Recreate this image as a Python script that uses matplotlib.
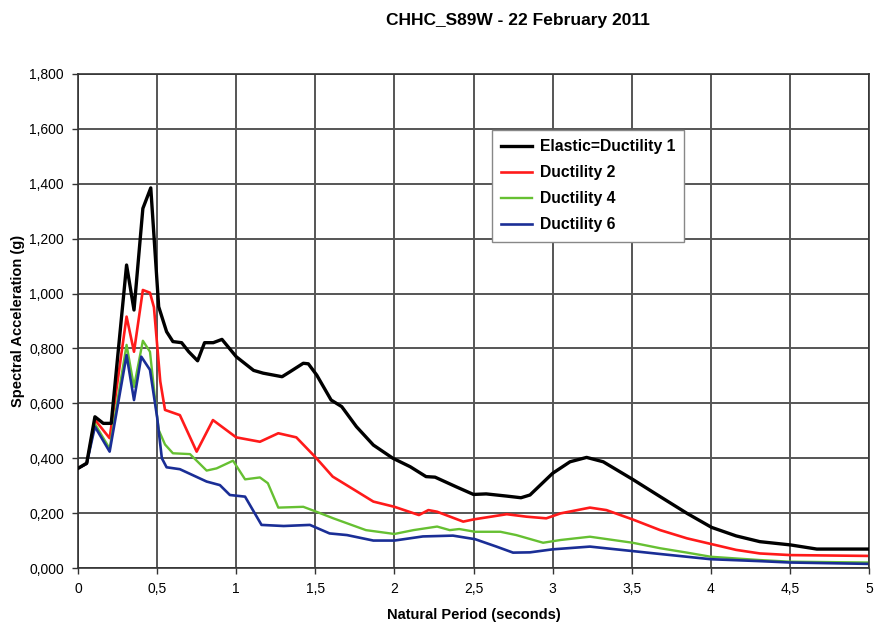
import numpy as np
import matplotlib
matplotlib.use("Agg")
import matplotlib.pyplot as plt
from matplotlib.ticker import FuncFormatter

# Spectra: period (s) and spectral acceleration (g)
t_elastic = [0, 0.055, 0.107, 0.16, 0.21, 0.307, 0.354, 0.41, 0.46, 0.51, 0.56, 0.60,
             0.655, 0.70, 0.756, 0.80, 0.855, 0.91, 1.0, 1.11, 1.17, 1.29, 1.34, 1.424,
             1.456, 1.509, 1.60, 1.667, 1.76, 1.867, 1.99, 2.10, 2.20, 2.257, 2.39, 2.50,
             2.58, 2.71, 2.80, 2.857, 3.0, 3.11, 3.215, 3.32, 3.506, 3.68, 3.85, 4.005,
             4.16, 4.31, 4.505, 4.67, 5.0]
sa_elastic = [0.363, 0.382, 0.551, 0.527, 0.527, 1.104, 0.94, 1.31, 1.385, 0.952, 0.861, 0.825,
              0.821, 0.788, 0.755, 0.821, 0.821, 0.833, 0.77, 0.72, 0.71, 0.697, 0.715, 0.746,
              0.744, 0.703, 0.612, 0.588, 0.515, 0.448, 0.40, 0.369, 0.333, 0.331, 0.296, 0.268,
              0.27, 0.262, 0.256, 0.266, 0.345, 0.387, 0.403, 0.387, 0.323, 0.26, 0.199, 0.148,
              0.117, 0.096, 0.084, 0.069, 0.069]

t_duct2 = [0, 0.055, 0.107, 0.2, 0.307, 0.354, 0.41, 0.455, 0.48, 0.52, 0.55, 0.644, 0.75,
           0.853, 1.0, 1.15, 1.266, 1.38, 1.507, 1.61, 1.76, 1.867, 2.0, 2.155, 2.215, 2.27,
           2.435, 2.5, 2.71, 2.835, 2.96, 3.05, 3.236, 3.34, 3.506, 3.68, 3.85, 4.005, 4.16,
           4.31, 4.505, 5.0]
sa_duct2 = [0.363, 0.38, 0.54, 0.473, 0.916, 0.788, 1.013, 1.003, 0.95, 0.68, 0.576, 0.557, 0.424,
            0.539, 0.476, 0.46, 0.491, 0.476, 0.40, 0.333, 0.28, 0.242, 0.223, 0.193, 0.211, 0.205,
            0.169, 0.177, 0.196, 0.187, 0.181, 0.199, 0.22, 0.211, 0.177, 0.138, 0.108, 0.087, 0.066,
            0.053, 0.047, 0.044]

t_duct4 = [0, 0.055, 0.107, 0.2, 0.307, 0.354, 0.41, 0.455, 0.49, 0.51, 0.55, 0.60, 0.708, 0.813,
           0.876, 0.98, 1.056, 1.15, 1.2, 1.266, 1.424, 1.507, 1.614, 1.82, 2.0, 2.12, 2.27, 2.35,
           2.41, 2.51, 2.67, 2.77, 2.94, 3.05, 3.236, 3.506, 3.68, 3.85, 4.0, 4.31, 4.5, 5.0]
sa_duct4 = [0.363, 0.38, 0.525, 0.435, 0.813, 0.66, 0.828, 0.788, 0.60, 0.503, 0.45, 0.418, 0.415,
            0.355, 0.363, 0.391, 0.323, 0.33, 0.309, 0.22, 0.223, 0.205, 0.181, 0.138, 0.124, 0.138,
            0.151, 0.138, 0.142, 0.132, 0.132, 0.12, 0.092, 0.102, 0.114, 0.092, 0.072, 0.056, 0.041,
            0.029, 0.023, 0.02]

t_duct6 = [0, 0.055, 0.107, 0.2, 0.307, 0.354, 0.40, 0.455, 0.50, 0.53, 0.56, 0.644, 0.813, 0.897,
           0.96, 1.056, 1.16, 1.30, 1.466, 1.59, 1.70, 1.867, 2.0, 2.18, 2.37, 2.51, 2.645, 2.75,
           2.857, 3.0, 3.236, 3.5, 3.68, 4.0, 4.31, 4.5, 5.0]
sa_duct6 = [0.363, 0.38, 0.515, 0.424, 0.776, 0.612, 0.77, 0.722, 0.55, 0.40, 0.367, 0.36, 0.315,
            0.302, 0.266, 0.26, 0.157, 0.153, 0.157, 0.126, 0.12, 0.1, 0.1, 0.115, 0.118, 0.105,
            0.078, 0.056, 0.057, 0.068, 0.078, 0.062, 0.051, 0.032, 0.025, 0.02, 0.015]

labels = ["Elastic=Ductility 1", "Ductility 2", "Ductility 4", "Ductility 6"]
colors = ["#000000", "#ff1a1a", "#66c032", "#1a2e96"]
widths = [2.4, 1.9, 1.7, 1.9]

plt.rcParams['font.family'] = ['Liberation Sans', 'DejaVu Sans']

fig = plt.figure(figsize=(8.74, 6.22), dpi=100)
ax = fig.add_axes([78 / 874, 1 - 568 / 622, 791 / 874, 494 / 622])

series = [(t_elastic, sa_elastic), (t_duct2, sa_duct2), (t_duct4, sa_duct4), (t_duct6, sa_duct6)]
handles = []
for (t, sa), lab, c, lw in zip(series, labels, colors, widths):
    h, = ax.plot(t, sa, color=c, lw=lw, label=lab, solid_joinstyle='round')
    handles.append(h)
handles[0].set_zorder(5)  # elastic line on top

ax.set_xlim(0, 5)
ax.set_ylim(0, 1.8)
ax.set_xticks(np.arange(0, 5.01, 0.5))
ax.set_yticks(np.arange(0, 1.801, 0.2))

def fmt_x(v, pos):
    return f"{v:g}".replace(".", ",")

def fmt_y(v, pos):
    return f"{v:.3f}".replace(".", ",")

ax.xaxis.set_major_formatter(FuncFormatter(fmt_x))
ax.yaxis.set_major_formatter(FuncFormatter(fmt_y))
ax.tick_params(axis='both', labelsize=10, length=4, width=1, color='#333333', pad=6)

ax.grid(True, color='#555555', lw=1.4)
ax.set_axisbelow(True)
for sp in ax.spines.values():
    sp.set_color('#333333')
    sp.set_linewidth(1.2)

ax.set_xlabel("Natural Period (seconds)", fontsize=10.5, fontweight='bold', labelpad=9)
ax.set_ylabel("Spectral Acceleration (g)", fontsize=10.5, fontweight='bold', labelpad=3)
fig.text(518 / 874, 1 - 21 / 622, "CHHC_S89W - 22 February 2011", ha='center', va='center',
         fontsize=12.5, fontweight='bold')

leg = ax.legend(handles=handles, loc='upper left', bbox_to_anchor=(0.523, 0.887),
                fancybox=False, framealpha=1, edgecolor='#888888', handlelength=2.0,
                handletextpad=0.45, labelspacing=0.7, borderpad=0.6, borderaxespad=0,
                prop={'size': 11.3, 'weight': 'bold'})
leg.get_frame().set_linewidth(1.0)
leg.set_zorder(10)

fig.savefig("out.png", dpi=100)
